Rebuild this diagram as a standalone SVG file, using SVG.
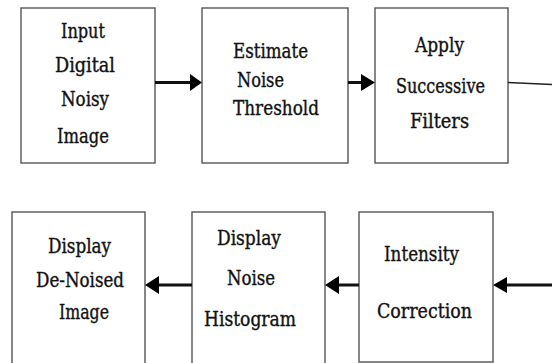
<svg xmlns="http://www.w3.org/2000/svg" width="552" height="363" viewBox="0 0 552 363">
<style>
.box{fill:#fff;stroke:#555;stroke-width:1.4}
.t{font-family:"DejaVu Serif Condensed","DejaVu Serif",serif;font-stretch:condensed;font-size:20px;fill:#111;stroke:#111;stroke-width:0.35}
.ln{stroke:#111;stroke-width:3;fill:none}
.thin{stroke:#222;stroke-width:1.5;fill:none}
.ah{fill:#000}
</style>
<rect width="552" height="363" fill="#fff"/>
<g id="n1"><rect class="box" x="21" y="8" width="134" height="155"/>
<text class="t" x="61" y="38" textLength="44" lengthAdjust="spacingAndGlyphs">Input</text>
<text class="t" x="55" y="72" textLength="60" lengthAdjust="spacingAndGlyphs">Digital</text>
<text class="t" x="61" y="106" textLength="48" lengthAdjust="spacingAndGlyphs">Noisy</text>
<text class="t" x="57" y="143" textLength="52" lengthAdjust="spacingAndGlyphs">Image</text></g>
<g id="n2"><rect class="box" x="202" y="8" width="146" height="155"/>
<text class="t" x="233" y="58" textLength="75" lengthAdjust="spacingAndGlyphs">Estimate</text>
<text class="t" x="237" y="87" textLength="47" lengthAdjust="spacingAndGlyphs">Noise</text>
<text class="t" x="233" y="115" textLength="86" lengthAdjust="spacingAndGlyphs">Threshold</text></g>
<g id="n3"><rect class="box" x="375" y="8" width="133" height="155"/>
<text class="t" x="415" y="52" textLength="49" lengthAdjust="spacingAndGlyphs">Apply</text>
<text class="t" x="396" y="93" textLength="89" lengthAdjust="spacingAndGlyphs">Successive</text>
<text class="t" x="410" y="128" textLength="59" lengthAdjust="spacingAndGlyphs">Filters</text></g>
<g id="n4"><rect class="box" x="12" y="212" width="133" height="160"/>
<text class="t" x="48" y="253" textLength="63" lengthAdjust="spacingAndGlyphs">Display</text>
<text class="t" x="36" y="287" textLength="88" lengthAdjust="spacingAndGlyphs">De-Noised</text>
<text class="t" x="59" y="319" textLength="50" lengthAdjust="spacingAndGlyphs">Image</text></g>
<g id="n5"><rect class="box" x="192" y="212" width="133" height="160"/>
<text class="t" x="217" y="245" textLength="64" lengthAdjust="spacingAndGlyphs">Display</text>
<text class="t" x="227" y="285" textLength="48" lengthAdjust="spacingAndGlyphs">Noise</text>
<text class="t" x="204" y="326" textLength="92" lengthAdjust="spacingAndGlyphs">Histogram</text></g>
<g id="n6"><rect class="box" x="359" y="212" width="134" height="150"/>
<text class="t" x="384" y="261" textLength="75" lengthAdjust="spacingAndGlyphs">Intensity</text>
<text class="t" x="377" y="318" textLength="95" lengthAdjust="spacingAndGlyphs">Correction</text></g>
<g id="connectors">
<line class="ln" x1="155" y1="82.5" x2="191" y2="82.5"/>
<polygon class="ah" points="190,74 202,82.5 190,91"/>
<line class="ln" x1="348" y1="82.5" x2="362" y2="82.5"/>
<polygon class="ah" points="361,74 375,82.5 361,91"/>
<line class="thin" x1="508" y1="82.5" x2="552" y2="84.5"/>
<line class="ln" x1="192" y1="285" x2="158" y2="285"/>
<polygon class="ah" points="159,276 145,285 159,294"/>
<line class="ln" x1="359" y1="285" x2="338" y2="285"/>
<polygon class="ah" points="339,276 325,285 339,294"/>
<line class="ln" x1="552" y1="285" x2="506" y2="285"/>
<polygon class="ah" points="507,277 493,285 507,293"/>
</g>
</svg>
